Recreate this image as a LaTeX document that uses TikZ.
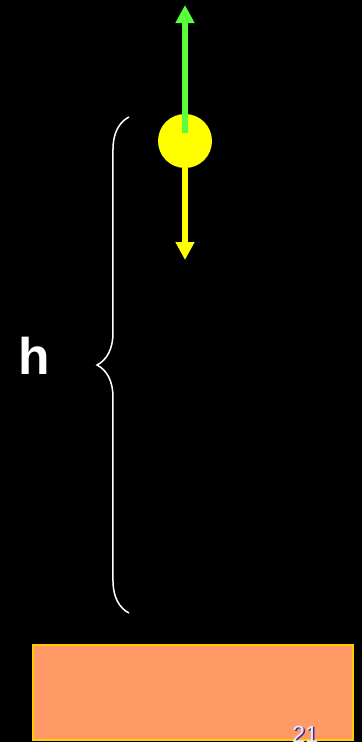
\documentclass[tikz,border=0pt]{standalone}
\usepackage{fontspec}
\setmainfont{Liberation Sans}
\usetikzlibrary{arrows.meta,positioning,decorations.pathreplacing}
\definecolor{ballyellow}{RGB}{255,255,0}
\definecolor{liftgreen}{RGB}{90,255,60}
\definecolor{groundfill}{RGB}{255,153,102}
\definecolor{groundline}{RGB}{255,204,0}
\definecolor{pagenum}{RGB}{235,230,255}
\definecolor{pageshadow}{RGB}{60,50,140}

\begin{document}
\begin{tikzpicture}[x=0.03cm, y=-0.03cm, >={Triangle[length=0.54cm,width=0.54cm]}]
        \tikzstyle{ball}=[circle, fill=ballyellow, minimum size=1.62cm, inner sep=0pt]
        \tikzstyle{force}=[->, line width=0.18cm]
        \tikzstyle{ground}=[rectangle, draw=groundline, fill=groundfill, line width=0.06cm, minimum width=9.6cm, minimum height=2.85cm, inner sep=0pt]
        \tikzstyle{brace}=[draw=white, line width=0.045cm, decorate, decoration={brace, amplitude=0.96cm}]
        \fill[black] (0,0) rectangle (362,742);
        \useasboundingbox (0,0) rectangle (362,742);
        \clip (0,0) rectangle (362,742);
        \node[ball]   (ball)   at (185,141) {};
        \coordinate   (lift)   at (185,133);
        \coordinate   (up)     at (185,5);
        \coordinate   (down)   at (185,260);
        \draw[force, draw=ballyellow] (ball.south) -- (down);
        \draw[force, draw=liftgreen]  (lift) -- (up);
        \coordinate   (top)    at (129,117);
        \coordinate   (bottom) at (129,613);
        \draw[brace] (bottom) -- (top);
        \node[text=white, font=\fontsize{44}{44}\selectfont\bfseries] (height) at (34,356) {h};
        \node[ground] (floor) at (193,692.5) {};
        \node[anchor=base west, text=pageshadow, font=\fontsize{20}{20}\selectfont] at (289.5,743.5) {21};
        \node[anchor=base west, text=pagenum, font=\fontsize{20}{20}\selectfont] (page) at (288,742) {21};
\end{tikzpicture}
\end{document}
